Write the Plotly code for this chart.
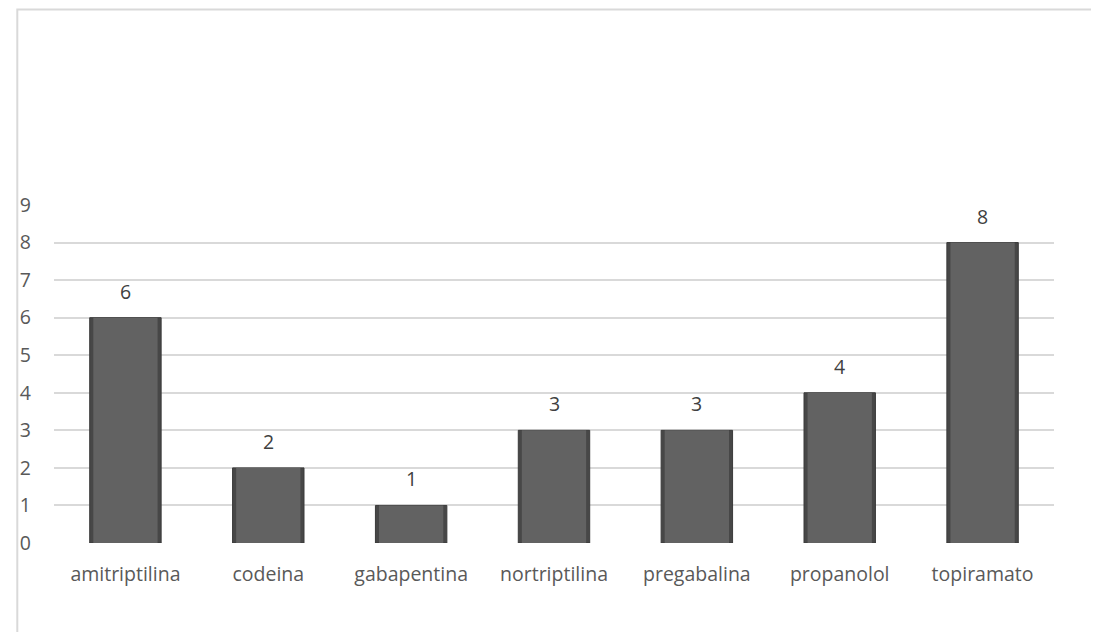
import plotly.graph_objects as go

categories = ["amitriptilina", "codeina", "gabapentina", "nortriptilina", "pregabalina", "propanolol", "topiramato"]
values = [6, 2, 1, 3, 3, 4, 8]
y_ticks = [0, 1, 2, 3, 4, 5, 6, 7, 8, 9]

FONT = "Open Sans, Lato, sans-serif"
FS = 19.5
L, R, T, B = 38, 53, 197, 97
PW = 1099 - L - R

fig = go.Figure()
# outer (darker edge) bar
fig.add_trace(go.Bar(
    x=categories, y=values, width=0.5,
    marker=dict(color="#474747", line=dict(color="#3a3a3a", width=1)),
    hoverinfo="x+y", showlegend=False,
))
# inner (lighter face) bar for bevel look
fig.add_trace(go.Bar(
    x=categories, y=values, width=0.45,
    marker=dict(color="#626262", line=dict(width=0)),
    hoverinfo="skip", showlegend=False,
))

for c, v in zip(categories, values):
    fig.add_annotation(x=c, y=v, text=str(v), showarrow=False, yanchor="bottom",
                       yshift=11, font=dict(family=FONT, size=FS, color="#404040"))

fig.update_layout(
    width=1099, height=632,
    barmode="overlay",
    paper_bgcolor="white", plot_bgcolor="white",
    margin=dict(l=L, r=R, t=T, b=B),
    font=dict(family=FONT, size=FS, color="#595959"),
    xaxis=dict(showgrid=False, showline=False, zeroline=False, ticks="",
               tickfont=dict(family=FONT, size=FS, color="#595959"),
               ticklabelstandoff=17),
    yaxis=dict(range=[0, 9], tickvals=y_ticks, showgrid=True, gridcolor="#d9d9d9", gridwidth=1.5,
               zeroline=False, showline=False, ticks="",
               tickfont=dict(family=FONT, size=FS, color="#595959"),
               ticklabelstandoff=22),
    shapes=[dict(type="rect", xref="paper", yref="paper",
                 x0=-(L - 1) / PW, x1=1.2, y0=-1, y1=1 + (T - 1.5) / 338,
                 line=dict(color="#d9d9d9", width=2), fillcolor="rgba(0,0,0,0)", layer="below")],
)

fig.write_html("out.html")
